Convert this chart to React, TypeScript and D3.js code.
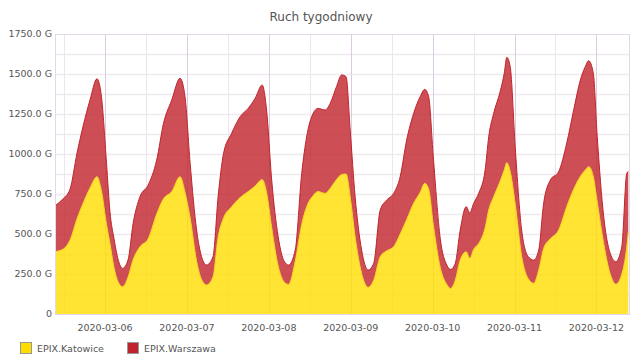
import React, { useRef, useEffect } from "react";
import * as d3 from "d3";

// godziny od początku okna (2020-03-05 09:20 UTC)
const startTime = Date.UTC(2020, 2, 5, 9, 20);
const hours = [0, 2.35, 4.4, 6.45, 8.2, 10.25, 12.3, 13.6, 15.1, 16.1, 17.3, 18.5, 19.8, 21.4, 22.9, 24.9, 27.3, 29.8, 31.8, 34.2,
  36.65, 38.1, 39.6, 41.5, 42.95, 44.4, 46.3, 47.8, 49.4, 51.75, 54.25, 56.6, 58.65, 60.7, 62.0, 63.5, 65.4, 67.15, 68.45, 70.4,
  72.3, 73.75, 75.65, 77.1, 79.15, 80.65, 82.5, 84.0, 85.3, 86.5, 87.95, 89.85, 91.75, 93.4, 95.3, 97.2, 99.25, 101.15, 103.05, 105.1,
  107.0, 108.35, 109.5, 110.85, 112.9, 114.8, 115.95, 117.3, 118.75, 120.5, 121.55, 122.7, 124.15, 126.05, 127.1, 128.55, 130.45, 131.65, 132.4, 133.4,
  134.85, 136.75, 138.7, 140.3, 141.75, 143.2, 145.15, 147.6, 149.95, 152.0, 153.95, 155.4, 156.4, 157.75, 158.9, 160.8, 162.7, 164.35, 166.1, 167.55, 168.0];

const katowice = [390, 405, 462, 595, 690, 787, 858, 770, 560, 442, 290, 200, 171, 230, 340, 420, 470, 625, 720, 765,
  858, 760, 600, 330, 215, 181, 233, 480, 600, 670, 728, 765, 800, 840, 760, 540, 300, 200, 185, 330,
  560, 671, 740, 765, 754, 785, 840, 872, 875, 733, 483, 254, 167, 212, 358, 395, 421, 500, 590, 692,
  760, 817, 780, 560, 290, 185, 160, 212, 337, 389, 348, 405, 440, 540, 650, 733, 830, 900, 946, 890,
  690, 360, 220, 192, 275, 410, 470, 525, 671, 780, 860, 900, 921, 858, 700, 440, 250, 187, 250, 420, 515];

const warszawa = [286, 315, 318, 410, 481, 550, 612, 590, 382, 198, 180, 140, 114, 107, 227, 313, 336, 337, 472, 572,
  615, 598, 342, 195, 143, 125, 125, 253, 404, 459, 505, 520, 548, 591, 515, 297, 183, 130, 121, 70,
  319, 437, 514, 520, 521, 532, 581, 622, 608, 417, 250, 146, 108, 105, 292, 317, 333, 358, 497, 562,
  598, 587, 578, 423, 180, 121, 119, 105, 188, 282, 285, 287, 314, 360, 458, 521, 560, 604, 658, 656,
  356, 165, 138, 145, 125, 282, 367, 365, 396, 495, 602, 646, 662, 646, 408, 168, 129, 140, 171, 459, 375];

const seriesNames = ["EPIX.Katowice", "EPIX.Warszawa"];
const seriesColors = ["#ffdd00", "#c0232b"];
const yTicks = [0, 250, 500, 750, 1000, 1250, 1500, 1750];

const App = () => {
  const svgRef = useRef<SVGSVGElement>(null);

  useEffect(() => {
    const width = 640;
    const height = 360;
    const marginLeft = 55;
    const marginRight = 10;
    const marginTop = 34;
    const marginBottom = 46;
    const font = "DejaVu Sans, sans-serif";

    const rows = hours.map((h, i) => ({
      t: new Date(startTime + h * 3600e3),
      [seriesNames[0]]: katowice[i],
      [seriesNames[1]]: warszawa[i],
    }));

    const x = d3.scaleUtc()
      .domain([new Date(startTime), new Date(startTime + 168.5 * 3600e3)])
      .range([marginLeft, width - marginRight]);

    const y = d3.scaleLinear()
      .domain([0, 1750])
      .range([height - marginBottom, marginTop]);

    const stacked = d3.stack<any>().keys(seriesNames)(rows);

    const svg = d3.select(svgRef.current);
    svg.selectAll("*").remove();
    svg.attr("width", width).attr("height", height).attr("viewBox", [0, 0, width, height]);

    // tytuł
    svg.append("text")
      .attr("x", 321).attr("y", 21)
      .attr("text-anchor", "middle")
      .attr("font-family", font).attr("font-size", 12)
      .attr("fill", "#555")
      .text("Ruch tygodniowy");

    // siatka pozioma co 125 G
    svg.append("g")
      .selectAll("line")
      .data(d3.range(125, 1750, 125))
      .join("line")
        .attr("x1", marginLeft).attr("x2", width - marginRight)
        .attr("y1", d => Math.round(y(d)) + 0.5).attr("y2", d => Math.round(y(d)) + 0.5)
        .attr("stroke", "#efe9f0").attr("stroke-width", 1.5);

    // siatka pionowa co 12 h
    const halfDays = d3.utcHour.every(12)!.range(x.domain()[0], x.domain()[1]);
    svg.append("g")
      .selectAll("line")
      .data(halfDays)
      .join("line")
        .attr("x1", d => Math.round(x(d)) + 0.5).attr("x2", d => Math.round(x(d)) + 0.5)
        .attr("y1", marginTop).attr("y2", height - marginBottom)
        .attr("stroke", d => d.getUTCHours() === 0 ? "#dccbe0" : "#ede4ef");

    const area = d3.area<any>()
      .x(d => x(d.data.t))
      .y0(d => y(d[0]))
      .y1(d => y(d[1]))
      .curve(d3.curveMonotoneX);

    const line = d3.line<any>()
      .x(d => x(d.data.t))
      .y(d => y(d[1]))
      .curve(d3.curveMonotoneX);

    svg.append("g")
      .selectAll("path")
      .data(stacked)
      .join("path")
        .attr("d", area)
        .attr("fill", (_, i) => seriesColors[i])
        .attr("fill-opacity", 0.8);

    svg.append("g")
      .selectAll("path")
      .data(stacked)
      .join("path")
        .attr("d", line)
        .attr("fill", "none")
        .attr("stroke", (_, i) => i === 0 ? "#f7d21e" : seriesColors[i])
        .attr("stroke-width", 1);

    // ramka
    svg.append("rect")
      .attr("x", marginLeft + 0.5).attr("y", marginTop + 0.5)
      .attr("width", width - marginRight - marginLeft - 1)
      .attr("height", height - marginBottom - marginTop)
      .attr("fill", "none")
      .attr("stroke", "#e6d6ea");

    // oś Y
    svg.append("g")
      .selectAll("text")
      .data(yTicks)
      .join("text")
        .attr("x", marginLeft - 3)
        .attr("y", d => y(d))
        .attr("dy", "0.35em")
        .attr("text-anchor", "end")
        .attr("font-family", font).attr("font-size", 9.5)
        .attr("fill", "#555")
        .text(d => d === 0 ? "0" : d.toFixed(1) + " G");

    // oś X
    const days = d3.utcDay.range(x.domain()[0], x.domain()[1]);
    svg.append("g")
      .selectAll("text")
      .data(days)
      .join("text")
        .attr("x", d => x(d))
        .attr("y", height - marginBottom + 17)
        .attr("text-anchor", "middle")
        .attr("font-family", font).attr("font-size", 9.5)
        .attr("fill", "#555")
        .text(d => d3.utcFormat("%Y-%m-%d")(d));

    // legenda
    const legend = svg.append("g")
      .selectAll("g")
      .data(seriesNames)
      .join("g")
        .attr("transform", (_, i) => `translate(${20 + i * 107},342)`);

    legend.append("rect")
      .attr("x", 0.5).attr("y", 0.5)
      .attr("width", 11).attr("height", 11)
      .attr("fill", (_, i) => seriesColors[i])
      .attr("stroke", "#999");

    legend.append("text")
      .attr("x", 17).attr("y", 9.5)
      .attr("font-family", font).attr("font-size", 9.5)
      .attr("fill", "#555")
      .text(d => d);
  }, []);

  return (
    <svg ref={svgRef} style={{ position: "absolute", left: 0, top: 0 }} />
  );
};

export default App;
